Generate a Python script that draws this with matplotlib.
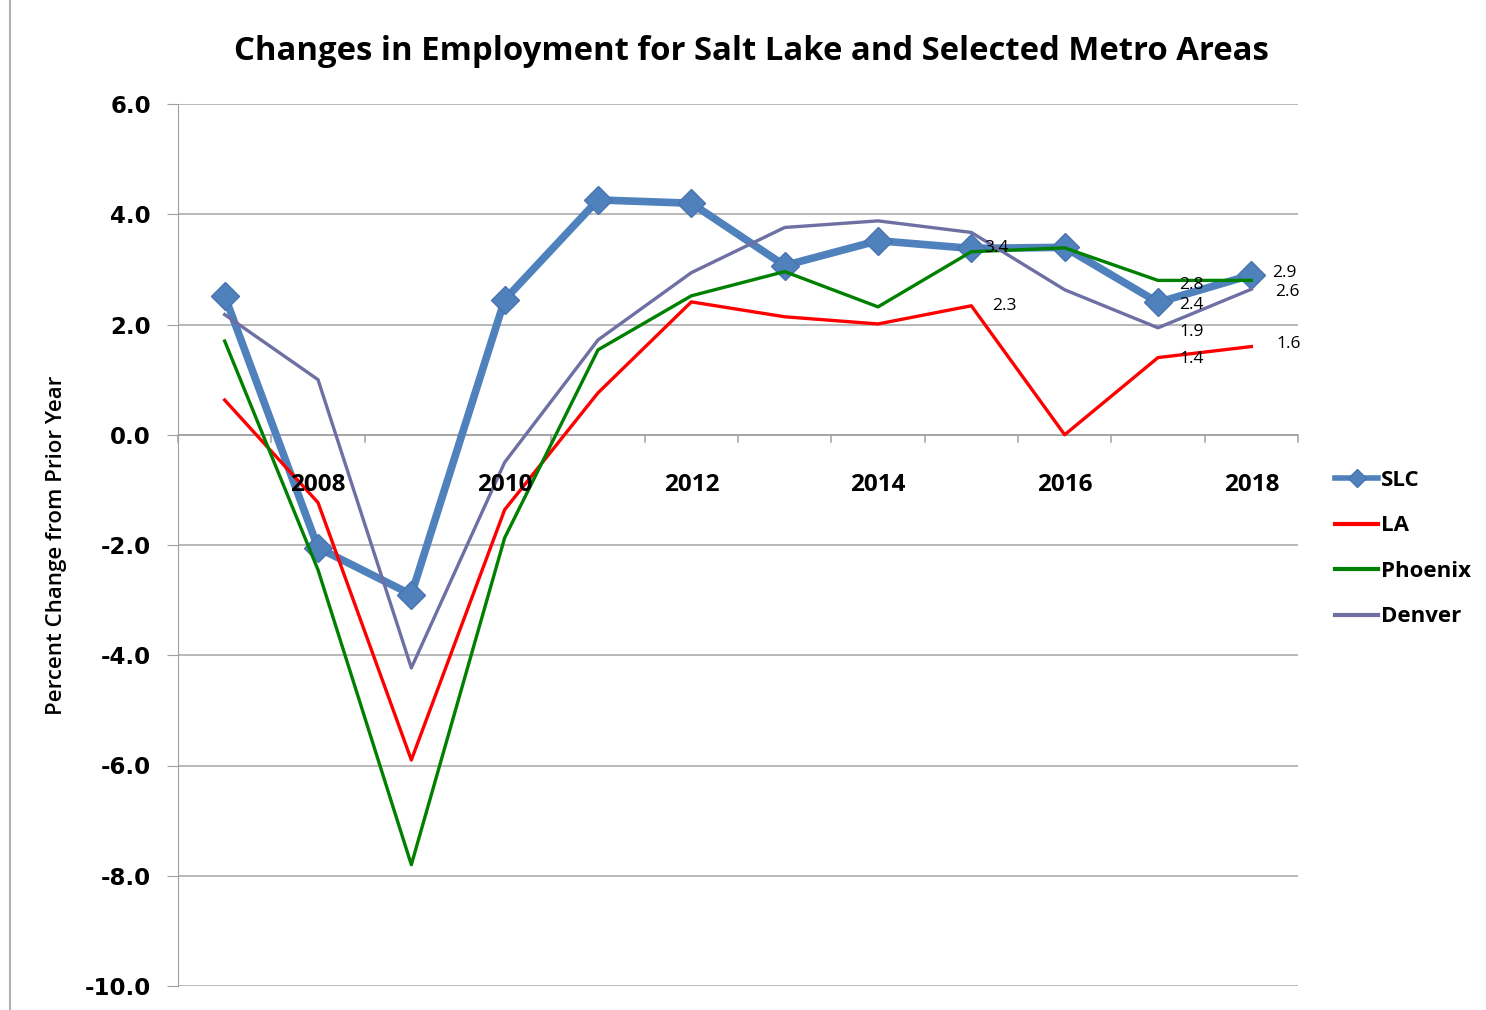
import matplotlib.pyplot as plt
from matplotlib.lines import Line2D

# Data (percent change from prior year)
years = [2007, 2008, 2009, 2010, 2011, 2012, 2013, 2014, 2015, 2016, 2017, 2018]
slc = [2.52, -2.05, -2.9, 2.45, 4.26, 4.2, 3.07, 3.52, 3.38, 3.4, 2.4, 2.9]
la = [0.63, -1.23, -5.9, -1.36, 0.76, 2.41, 2.14, 2.01, 2.34, 0.0, 1.4, 1.6]
phoenix = [1.7, -2.45, -7.8, -1.87, 1.54, 2.52, 2.96, 2.32, 3.32, 3.39, 2.8, 2.8]
denver = [2.18, 1.0, -4.23, -0.5, 1.72, 2.94, 3.76, 3.88, 3.67, 2.63, 1.94, 2.64]
year_labels = ['2008', '2010', '2012', '2014', '2016', '2018']
y_ticks = [6, 4, 2, 0, -2, -4, -6, -8, -10]

# which points carry a data label: (series, index, dx, dy) offsets in points
labelled = [
    ('slc', 8, 18, 0), ('slc', 10, 24, -2), ('slc', 11, 24, 1),
    ('la', 8, 24, 0), ('la', 10, 24, -1), ('la', 11, 27, 2),
    ('phoenix', 10, 24, -3), ('denver', 10, 24, -3), ('denver', 11, 26, -2),
]

series = {'slc': slc, 'la': la, 'phoenix': phoenix, 'denver': denver}

bold_font = 'DejaVu Sans'
text_font = 'Open Sans'

fig = plt.figure(figsize=(14.86, 10.10), dpi=100)
ax = fig.add_axes([178 / 1486, 1 - 986 / 1010, 1120 / 1486, 882 / 1010])

x = list(range(len(years)))
ax.plot(x, slc, color='#4F81BD', lw=5.5, marker='D', markersize=14,
        markerfacecolor='#4F81BD', markeredgecolor='#4A74B0', zorder=3)
ax.plot(x, la, color='#FF0000', lw=2.4, zorder=4)
ax.plot(x, phoenix, color='#008000', lw=2.4, zorder=5)
ax.plot(x, denver, color='#6E6FA3', lw=2.4, zorder=6)

for name, i, dx, dy in labelled:
    v = series[name][i]
    ax.annotate(f'{v:.1f}', (x[i], v), xytext=(dx, dy), textcoords='offset points',
                ha='center', va='center', fontsize=12.5, family=text_font, zorder=10)

ax.set_xlim(-0.5, len(years) - 0.5)
ax.set_ylim(-10, 6)
ax.set_yticks(y_ticks)
ax.set_yticklabels([f'{t:.1f}' for t in y_ticks], fontsize=16.5, fontweight='bold', family=bold_font)
ax.tick_params(axis='y', length=8, color='#A0A0A0', pad=11.5)
ax.grid(axis='y', color='#A6A6A6', lw=1.1)
ax.set_axisbelow(True)

# category axis drawn at zero with ticks between categories
ax.set_xticks([])
ax.spines['top'].set_visible(False)
ax.spines['right'].set_visible(False)
ax.spines['bottom'].set_visible(False)
ax.spines['left'].set_color('#A0A0A0')
ax.axhline(0, color='#A0A0A0', lw=1.1, zorder=1)
for b in range(len(years) + 1):
    ax.plot([b - 0.5, b - 0.5], [0, -0.14], color='#A0A0A0', lw=1.1, zorder=1, clip_on=False)
for lab in year_labels:
    i = years.index(int(lab))
    ax.annotate(lab, (x[i], 0), xytext=(0, -36), textcoords='offset points', ha='center',
                va='center', fontsize=17.5, fontweight='bold', family=text_font, zorder=11)

ax.set_ylabel('Percent Change from Prior Year', fontsize=16, family=text_font,
              fontweight='semibold', labelpad=13)

fig.text(751 / 1486, 1 - 52 / 1010, 'Changes in Employment for Salt Lake and Selected Metro Areas',
         ha='center', va='center', fontsize=23.7, fontweight='bold', family=text_font)

handles = [
    Line2D([], [], color='#4F81BD', lw=4, marker='D', markersize=9, markeredgecolor='#4A74B0'),
    Line2D([], [], color='#FF0000', lw=3),
    Line2D([], [], color='#008000', lw=3),
    Line2D([], [], color='#6E6FA3', lw=3),
]
fig.legend(handles, ['SLC', 'LA', 'Phoenix', 'Denver'], loc='upper left',
           bbox_to_anchor=(1315 / 1486, 1 - 450 / 1010), frameon=False,
           handlelength=1.95, handletextpad=0.1, labelspacing=1.1,
           prop={'family': text_font, 'weight': 'bold', 'size': 16})

# thin border line on the left edge of the image
fig.add_artist(Line2D([10 / 1486, 10 / 1486], [0, 1], color='#B0B0B0', lw=1.5))

fig.savefig('out.png', dpi=100)
